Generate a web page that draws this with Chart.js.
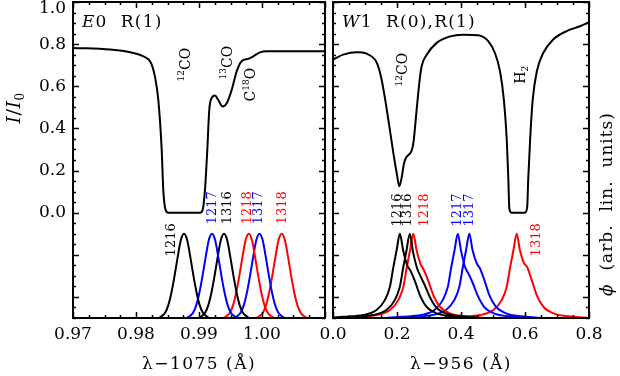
<!DOCTYPE html>
<html>
<head>
<meta charset="UTF-8">
<title>E0 R(1) / W1 R(0),R(1)</title>
<script src="https://cdn.jsdelivr.net/npm/chart.js"></script>
<style>
  body { margin: 0; background: #fff; }
  #wrap { position: relative; width: 620px; height: 376px; }
  canvas { position: absolute; top: 0; }
  #left { left: 0; }
  #right { left: 300px; }
</style>
</head>
<body>
<div id="wrap">
  <canvas id="left" width="330" height="376"></canvas>
  <canvas id="right" width="320" height="376"></canvas>
</div>
<script>
// ---- left panel: E0 R(1), lambda - 1075 A ----
const leftWave  = [0.970, 0.9759, 0.9796, 0.9812, 0.9820, 0.9825, 0.9830, 0.98354, 0.98408, 0.98433, 0.98471, 0.98513,
                   0.99016, 0.99057, 0.99095, 0.99132, 0.99163, 0.99201, 0.99254, 0.99306, 0.99376, 0.99440, 0.99519,
                   0.99598, 0.99677, 0.99783, 0.99862, 0.99968, 1.00074, 1.010];
const leftTrans = [0.782, 0.774, 0.758, 0.742, 0.727, 0.703, 0.647, 0.535, 0.299, 0.108, 0.012, 0.000,
                   0.000, 0.012, 0.108, 0.299, 0.488, 0.544, 0.556, 0.535, 0.504, 0.519, 0.583,
                   0.671, 0.719, 0.730, 0.742, 0.761, 0.766, 0.766];

// gaussian-looking line profiles (phi, arbitrary units, drawn below 0)
const gaussPhi = [-0.50, -0.49, -0.475, -0.44, -0.38, -0.30, -0.21, -0.13, -0.10, -0.13, -0.21, -0.30, -0.38, -0.44, -0.475, -0.49, -0.50];
const l1216 = [0.98362, 0.98412, 0.98462, 0.98512, 0.98562, 0.98612, 0.98662, 0.98712, 0.98762, 0.98812, 0.98862, 0.98912, 0.98962, 0.99012, 0.99062, 0.99112, 0.99162];
const l1217 = [0.98806, 0.98856, 0.98906, 0.98956, 0.99006, 0.99056, 0.99106, 0.99156, 0.99206, 0.99256, 0.99306, 0.99356, 0.99406, 0.99456, 0.99506, 0.99556, 0.99606];
const l1316 = [0.98997, 0.99047, 0.99097, 0.99147, 0.99197, 0.99247, 0.99297, 0.99347, 0.99397, 0.99447, 0.99497, 0.99547, 0.99597, 0.99647, 0.99697, 0.99747, 0.99797];
const l1218 = [0.99390, 0.99440, 0.99490, 0.99540, 0.99590, 0.99640, 0.99690, 0.99740, 0.99790, 0.99840, 0.99890, 0.99940, 0.99990, 1.00040, 1.00090, 1.00140, 1.00190];
const l1317 = [0.99560, 0.99610, 0.99660, 0.99710, 0.99760, 0.99810, 0.99860, 0.99910, 0.99960, 1.00010, 1.00060, 1.00110, 1.00160, 1.00210, 1.00260, 1.00310, 1.00360];
const l1318 = [0.99913, 0.99963, 1.00013, 1.00063, 1.00113, 1.00163, 1.00213, 1.00263, 1.00313, 1.00363, 1.00413, 1.00463, 1.00513, 1.00563, 1.00613, 1.00663, 1.00713];

// ---- right panel: W1 R(0),R(1), lambda - 956 A ----
const rightWave  = [0.000, 0.032, 0.074, 0.105, 0.131, 0.140, 0.150, 0.160, 0.170, 0.180, 0.190, 0.200, 0.207, 0.215, 0.222, 0.230,
                    0.240, 0.247, 0.252, 0.2615, 0.270, 0.277, 0.293, 0.324, 0.366, 0.407, 0.454, 0.485, 0.506, 0.522,
                    0.534, 0.543, 0.548, 0.551, 0.558, 0.600, 0.607, 0.610, 0.616, 0.624, 0.637, 0.657, 0.688, 0.730, 0.772, 0.800];
const rightTrans = [0.727, 0.750, 0.761, 0.755, 0.727, 0.700, 0.645, 0.565, 0.470, 0.370, 0.270, 0.180, 0.125, 0.170, 0.235, 0.265,
                    0.280, 0.300, 0.340, 0.490, 0.620, 0.695, 0.750, 0.806, 0.837, 0.845, 0.842, 0.814, 0.758, 0.671,
                    0.535, 0.346, 0.156, 0.020, 0.000, 0.000, 0.030, 0.156, 0.346, 0.535, 0.671, 0.758, 0.822, 0.862, 0.885, 0.904];

const r1216 = [-0.011, 0.032, 0.094, 0.136, 0.162, 0.178, 0.188, 0.199, 0.209, 0.219, 0.232, 0.242, 0.256, 0.2715, 0.292, 0.324, 0.386, 0.429];
const r1316 = [0.020, 0.063, 0.125, 0.167, 0.193, 0.209, 0.219, 0.230, 0.240, 0.250, 0.263, 0.273, 0.287, 0.3025, 0.323, 0.355, 0.417, 0.460];
const r1218 = [0.031, 0.074, 0.136, 0.178, 0.204, 0.220, 0.230, 0.241, 0.251, 0.261, 0.274, 0.284, 0.298, 0.3135, 0.334, 0.366, 0.428, 0.471];
const r1217 = [0.170, 0.213, 0.275, 0.317, 0.343, 0.359, 0.369, 0.380, 0.390, 0.400, 0.413, 0.423, 0.437, 0.4525, 0.473, 0.505, 0.567, 0.610];
const r1317 = [0.206, 0.249, 0.311, 0.353, 0.379, 0.395, 0.405, 0.416, 0.426, 0.436, 0.449, 0.459, 0.473, 0.4885, 0.509, 0.541, 0.603, 0.646];
const r1318 = [0.354, 0.397, 0.459, 0.501, 0.527, 0.543, 0.553, 0.564, 0.574, 0.584, 0.597, 0.607, 0.621, 0.6365, 0.657, 0.689, 0.751, 0.794];
const phi1216 = [-0.499, -0.494, -0.486, -0.462, -0.415, -0.351, -0.264, -0.177, -0.100, -0.177, -0.250, -0.275, -0.325, -0.391, -0.446, -0.478, -0.494, -0.499];
const phi1316 = [-0.499, -0.494, -0.486, -0.462, -0.415, -0.351, -0.264, -0.177, -0.100, -0.185, -0.265, -0.300, -0.345, -0.400, -0.450, -0.480, -0.494, -0.499];
const phi1218 = [-0.499, -0.494, -0.486, -0.462, -0.415, -0.351, -0.264, -0.177, -0.100, -0.177, -0.245, -0.272, -0.325, -0.391, -0.446, -0.478, -0.494, -0.499];
const phi1217 = [-0.499, -0.494, -0.486, -0.462, -0.415, -0.351, -0.264, -0.177, -0.100, -0.180, -0.260, -0.288, -0.335, -0.395, -0.448, -0.479, -0.494, -0.499];
const phi1317 = [-0.499, -0.494, -0.486, -0.462, -0.415, -0.351, -0.264, -0.177, -0.100, -0.177, -0.240, -0.264, -0.320, -0.391, -0.446, -0.478, -0.494, -0.499];
const phi1318 = [-0.499, -0.494, -0.486, -0.462, -0.415, -0.351, -0.264, -0.177, -0.100, -0.177, -0.240, -0.259, -0.320, -0.391, -0.446, -0.478, -0.494, -0.499];

// axis ticks
const leftXTicks  = [0.97, 0.98, 0.99, 1.00, 1.01];
const rightXTicks = [0.0, 0.2, 0.4, 0.6, 0.8];
const yLabelTicks = [0.0, 0.2, 0.4, 0.6, 0.8, 1.0];
const yMajorTicks = [-0.4, -0.2, 0.0, 0.2, 0.4, 0.6, 0.8, 1.0];

const BLACK = '#000000', BLUE = '#0000ff', RED = '#ff0000';
const FONT = '"DejaVu Serif", serif';

// text annotations (data coordinates)
const leftNames = [
  ['1216', 0.98540, -0.129, BLACK], ['1217', 0.99202, 0.023, BLUE], ['1316', 0.99429, 0.023, BLACK],
  ['1218', 0.99746, 0.023, RED], ['1317', 0.99929, 0.023, BLUE], ['1318', 1.00300, 0.023, RED]
];
const rightNames = [
  ['1216', 0.197, 0.013, BLACK], ['1316', 0.228, 0.013, BLACK], ['1218', 0.281, 0.013, RED],
  ['1217', 0.384, 0.013, BLUE], ['1317', 0.422, 0.013, BLUE], ['1318', 0.631, -0.129, RED]
];
const leftSpecies = [
  [[['12', 'sup'], ['CO', '']], 0.98778, 0.703],
  [[['13', 'sup'], ['CO', '']], 0.99444, 0.712],
  [[['C', ''], ['18', 'sup'], ['O', '']], 0.99810, 0.608]
];
const rightSpecies = [
  [[['12', 'sup'], ['CO', '']], 0.217, 0.679],
  [[['H', ''], ['2', 'sub']], 0.584, 0.655]
];

function setFont(ctx, size, italic) { ctx.font = (italic ? 'italic ' : '') + size + 'px ' + FONT; }
function partSize(kind, size) { return (kind === 'sup' || kind === 'sub') ? Math.round(size * 0.62) : size; }

// parts: [text, kind], kind '' | 'i' | 'sup' | 'sub'
function drawRich(ctx, parts, x, y, size, color, rotate, alignLeft, spacing) {
  ctx.save();
  ctx.translate(x, y);
  if (rotate) ctx.rotate(-Math.PI / 2);
  ctx.fillStyle = color;
  ctx.textBaseline = 'alphabetic';
  ctx.textAlign = 'left';
  ctx.letterSpacing = (spacing || 0) + 'px';
  let w = 0;
  const widths = parts.map(([t, k]) => {
    setFont(ctx, partSize(k, size), k === 'i');
    const m = ctx.measureText(t).width;
    w += m;
    return m;
  });
  let cx = alignLeft ? 0 : -w / 2;
  const base = size * 0.36;
  parts.forEach(([t, k], i) => {
    setFont(ctx, partSize(k, size), k === 'i');
    let dy = 0;
    if (k === 'sup') dy = -size * 0.42;
    if (k === 'sub') dy = size * 0.22;
    ctx.fillText(t, cx, base + dy);
    cx += widths[i];
  });
  ctx.restore();
}

function steps(min, max, step) {
  const out = [];
  const n = Math.round((max - min) / step);
  for (let i = 0; i <= n; i++) out.push(min + i * step);
  return out;
}

const panelPlugin = {
  id: 'panel',
  afterDraw(chart, args, o) {
    const ctx = chart.ctx, a = chart.chartArea, xs = chart.scales.x, ys = chart.scales.y;
    ctx.save();
    ctx.strokeStyle = '#000';
    ctx.lineWidth = 1.5;
    ctx.beginPath();
    const xt = (vals, len) => vals.forEach(v => {
      const p = Math.round(xs.getPixelForValue(v)) + 0.5;
      ctx.moveTo(p, a.bottom); ctx.lineTo(p, a.bottom - len);
      ctx.moveTo(p, a.top); ctx.lineTo(p, a.top + len);
    });
    const yt = (vals, len) => vals.forEach(v => {
      const p = Math.round(ys.getPixelForValue(v)) + 0.5;
      ctx.moveTo(a.left, p); ctx.lineTo(a.left + len, p);
      ctx.moveTo(a.right, p); ctx.lineTo(a.right - len, p);
    });
    xt(o.xMajor, 6);
    xt(steps(o.xMajor[0], o.xMajor[o.xMajor.length - 1], o.xMinor), 3);
    yt(yMajorTicks, 6);
    yt(steps(-0.5, 1.0, 0.05), 3);
    ctx.stroke();
    ctx.lineWidth = 2;
    ctx.strokeRect(a.left, a.top, a.right - a.left, a.bottom - a.top);

    if (o.yLabels) {
      setFont(ctx, 17, false);
      ctx.fillStyle = '#000';
      ctx.textAlign = 'right';
      ctx.textBaseline = 'middle';
      yLabelTicks.forEach(v => {
        ctx.fillText(v.toFixed(1), a.left - 7, Math.max(ys.getPixelForValue(v), 9));
      });
      drawRich(ctx, [['I', 'i'], ['/', ''], ['I', 'i'], ['0', 'sub']], 13, 108, 19, '#000', true, false, 0.5);
    }
    if (o.phiTitle) {
      drawRich(ctx, [['\u03d5', 'i'], ['  (arb.  lin.  units)', '']], a.right + 17, 204, 17, '#000', true, false, 1);
    }

    o.names.forEach(([t, x, y, c]) => {
      drawRich(ctx, [[t, '']], xs.getPixelForValue(x), ys.getPixelForValue(y), 13, c, true);
    });
    o.species.forEach(([parts, x, y]) => {
      drawRich(ctx, parts, xs.getPixelForValue(x), ys.getPixelForValue(y), 14, '#000', true);
    });
    drawRich(ctx, o.tag, a.left + 9, 21, 17, '#000', false, true, 1.2);
    drawRich(ctx, [[o.xTitle, '']], (a.left + a.right) / 2, 363, 17, '#000', false, false, 1.5);
    ctx.restore();
  }
};

function series(xs, ys, color) {
  return {
    data: xs.map((x, i) => ({ x: x, y: ys[i] })),
    borderColor: color, borderWidth: 2, pointRadius: 0,
    cubicInterpolationMode: 'monotone', fill: false
  };
}

function options(xMin, xMax, xTicks, digits, yWidth, padRight, panel) {
  return {
    responsive: false,
    animation: false,
    layout: { padding: { top: 2, right: padRight, bottom: 0, left: 0 } },
    plugins: { legend: { display: false }, tooltip: { enabled: false }, panel: panel },
    scales: {
      x: {
        type: 'linear', min: xMin, max: xMax,
        grid: { display: false, drawTicks: false },
        border: { display: false },
        afterBuildTicks: s => { s.ticks = xTicks.map(v => ({ value: v })); },
        afterFit: s => { s.height = 58; s.paddingLeft = 0; s.paddingRight = 0; },
        ticks: {
          autoSkip: false, maxRotation: 0, padding: 6, color: '#000',
          font: { family: FONT, size: 17 },
          callback: v => (v > 1.005 ? '' : Number(v).toFixed(digits))
        }
      },
      y: {
        type: 'linear', min: -0.5, max: 1.0,
        grid: { display: false, drawTicks: false },
        border: { display: false },
        ticks: { display: false },
        afterFit: s => { s.width = yWidth; s.paddingTop = 0; s.paddingBottom = 0; }
      }
    }
  };
}

new Chart(document.getElementById('left'), {
  type: 'line',
  data: {
    datasets: [
      series(leftWave, leftTrans, BLACK),
      series(l1216, gaussPhi, BLACK),
      series(l1217, gaussPhi, BLUE),
      series(l1316, gaussPhi, BLACK),
      series(l1218, gaussPhi, RED),
      series(l1317, gaussPhi, BLUE),
      series(l1318, gaussPhi, RED)
    ]
  },
  options: options(0.97, 1.01, leftXTicks, 2, 73, 5, {
    xMajor: leftXTicks, xMinor: 0.0025, yLabels: true, phiTitle: false,
    names: leftNames, species: leftSpecies,
    tag: [['E', 'i'], ['0  R(1)', '']], xTitle: '\u03bb\u22121075 (\u00c5)'
  }),
  plugins: [panelPlugin]
});

new Chart(document.getElementById('right'), {
  type: 'line',
  data: {
    datasets: [
      series(rightWave, rightTrans, BLACK),
      series(r1216, phi1216, BLACK),
      series(r1316, phi1316, BLACK),
      series(r1218, phi1218, RED),
      series(r1217, phi1217, BLUE),
      series(r1317, phi1317, BLUE),
      series(r1318, phi1318, RED)
    ]
  },
  options: options(0.0, 0.8, rightXTicks, 1, 33, 31, {
    xMajor: rightXTicks, xMinor: 0.05, yLabels: false, phiTitle: true,
    names: rightNames, species: rightSpecies,
    tag: [['W', 'i'], ['1  R(0),R(1)', '']], xTitle: '\u03bb\u2212956 (\u00c5)'
  }),
  plugins: [panelPlugin]
});
</script>
</body>
</html>
